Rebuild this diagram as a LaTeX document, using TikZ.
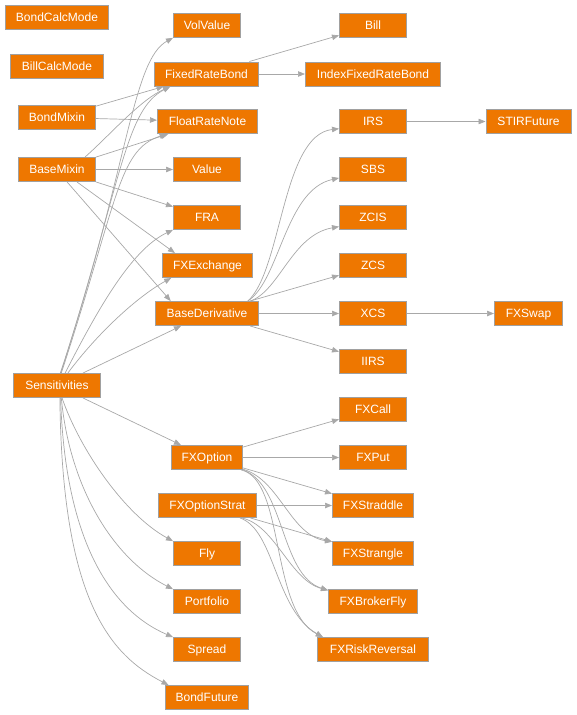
\documentclass[tikz,border=0pt]{standalone}
\usepackage{fontspec}
\setmainfont{Liberation Sans}
\usetikzlibrary{arrows.meta}
\definecolor{nodefill}{RGB}{238,119,0}
\definecolor{nodeline}{RGB}{160,160,160}
\definecolor{edgecol}{RGB}{168,168,168}
\begin{document}
\begin{tikzpicture}[x=1pt,y=-1pt,
  cls/.style={rectangle, fill=nodefill, draw=nodeline, line width=1pt, text=white,
    font=\fontsize{12}{14}\selectfont, minimum height=24pt, minimum width=67pt,
    inner xsep=3pt, inner ysep=0pt, text height=8.6pt, text depth=0pt},
  conn/.style={draw=edgecol, line width=0.7pt, -{Triangle[length=7pt,width=5.5pt]}}]
\useasboundingbox (0,0) rectangle (576,715);
% column 1
\node[cls, minimum width=103pt] (bondcalcmode) at (57,17.5) {BondCalcMode};
\node[cls, minimum width=93pt] (billcalcmode) at (57,66.5) {BillCalcMode};
\node[cls, minimum width=77pt] (bondmixin) at (57,117.5) {BondMixin};
\node[cls, minimum width=77pt] (basemixin) at (57,169.5) {BaseMixin};
\node[cls, minimum width=87pt] (sensitivities) at (57,385.5) {Sensitivities};
% column 2
\node[cls] (volvalue) at (207,25.5) {VolValue};
\node[cls, minimum width=104pt] (fixedratebond) at (206.5,74) {FixedRateBond};
\node[cls, minimum width=100pt] (floatratenote) at (207.5,121.5) {FloatRateNote};
\node[cls] (value) at (207,169.5) {Value};
\node[cls] (fra) at (207,217.5) {FRA};
\node[cls, minimum width=90pt] (fxexchange) at (207.5,265.5) {FXExchange};
\node[cls, minimum width=103pt] (basederivative) at (207,313.5) {BaseDerivative};
\node[cls, minimum width=71pt] (fxoption) at (207,457.5) {FXOption};
\node[cls, minimum width=98pt] (fxoptionstrat) at (207.5,505.5) {FXOptionStrat};
\node[cls] (fly) at (207,553.5) {Fly};
\node[cls] (portfolio) at (207,601.5) {Portfolio};
\node[cls] (spread) at (207,649.5) {Spread};
\node[cls, minimum width=83pt] (bondfuture) at (207,697.5) {BondFuture};
% column 3
\node[cls] (bill) at (373,25.5) {Bill};
\node[cls, minimum width=135pt] (indexfixedratebond) at (373,74) {IndexFixedRateBond};
\node[cls] (irs) at (373,121.5) {IRS};
\node[cls] (sbs) at (373,169.5) {SBS};
\node[cls] (zcis) at (373,217.5) {ZCIS};
\node[cls] (zcs) at (373,265.5) {ZCS};
\node[cls] (xcs) at (373,313.5) {XCS};
\node[cls] (iirs) at (373,361.5) {IIRS};
\node[cls] (fxcall) at (373,409.5) {FXCall};
\node[cls] (fxput) at (373,457.5) {FXPut};
\node[cls, minimum width=81pt] (fxstraddle) at (373,505.5) {FXStraddle};
\node[cls, minimum width=81pt] (fxstrangle) at (373,553.5) {FXStrangle};
\node[cls, minimum width=89pt] (fxbrokerfly) at (373,601.5) {FXBrokerFly};
\node[cls, minimum width=111pt] (fxriskreversal) at (373,649.5) {FXRiskReversal};
% column 4
\node[cls, minimum width=85pt] (stirfuture) at (528.5,121.5) {STIRFuture};
\node[cls, minimum width=68pt] (fxswap) at (528.5,313.5) {FXSwap};
% edges: mixins
\draw[conn] (bondmixin) -- (fixedratebond);
\draw[conn] (bondmixin) -- (floatratenote);
\draw[conn] (basemixin.24) .. controls (110,135) and (140,100) .. (fixedratebond.199);
\draw[conn] (basemixin) -- (floatratenote);
\draw[conn] (basemixin) -- (value);
\draw[conn] (basemixin) -- (fra);
\draw[conn] (basemixin.-32) -- (fxexchange.159);
\draw[conn] (basemixin.-51) -- (basederivative.161);
% bonds
\draw[conn] (fixedratebond) -- (bill);
\draw[conn] (fixedratebond) -- (indexfixedratebond);
% sensitivities
\draw[conn] (sensitivities.75) .. controls (128,170) and (132,60) .. (volvalue.200);
\draw[conn] (sensitivities.73) .. controls (122,180) and (125,110) .. (fixedratebond.199);
\draw[conn] (sensitivities.71) .. controls (118,200) and (118,150) .. (floatratenote.197);
\draw[conn] (sensitivities.57) .. controls (95,315) and (130,250) .. (fra.200);
\draw[conn] (sensitivities.49) .. controls (100,330) and (140,295) .. (fxexchange.199);
\draw[conn] (sensitivities) -- (basederivative);
\draw[conn] (sensitivities) -- (fxoption);
\draw[conn] (sensitivities.-68) .. controls (80,450) and (125,515) .. (fly.160);
\draw[conn] (sensitivities.-71) .. controls (70,490) and (115,560) .. (portfolio.160);
\draw[conn] (sensitivities.-74) .. controls (65,540) and (110,610) .. (spread.160);
\draw[conn] (sensitivities.-77) .. controls (62,600) and (110,655) .. (bondfuture.162);
% derivatives
\draw[conn] (basederivative.17) .. controls (282,270) and (282,135) .. (irs.192);
\draw[conn] (basederivative.17) .. controls (280,280) and (285,190) .. (sbs.194);
\draw[conn] (basederivative.16) .. controls (280,290) and (292,235) .. (zcis.195);
\draw[conn] (basederivative) -- (zcs);
\draw[conn] (basederivative) -- (xcs);
\draw[conn] (basederivative) -- (iirs);
\draw[conn] (irs) -- (stirfuture);
\draw[conn] (xcs) -- (fxswap);
% fx options
\draw[conn] (fxoption) -- (fxcall);
\draw[conn] (fxoption) -- (fxput);
\draw[conn] (fxoption) -- (fxstraddle);
\draw[conn] (fxoption.-18) .. controls (280,480) and (290,535) .. (fxstrangle.164);
\draw[conn] (fxoption.-19) .. controls (285,485) and (280,575) .. (fxbrokerfly.166);
\draw[conn] (fxoption.-20) .. controls (285,480) and (270,610) .. (fxriskreversal.166);
\draw[conn] (fxoptionstrat) -- (fxstraddle);
\draw[conn] (fxoptionstrat) -- (fxstrangle);
\draw[conn] (fxoptionstrat.-20) .. controls (275,525) and (290,580) .. (fxbrokerfly.166);
\draw[conn] (fxoptionstrat.-21) .. controls (275,530) and (275,610) .. (fxriskreversal.166);
\end{tikzpicture}
\end{document}
